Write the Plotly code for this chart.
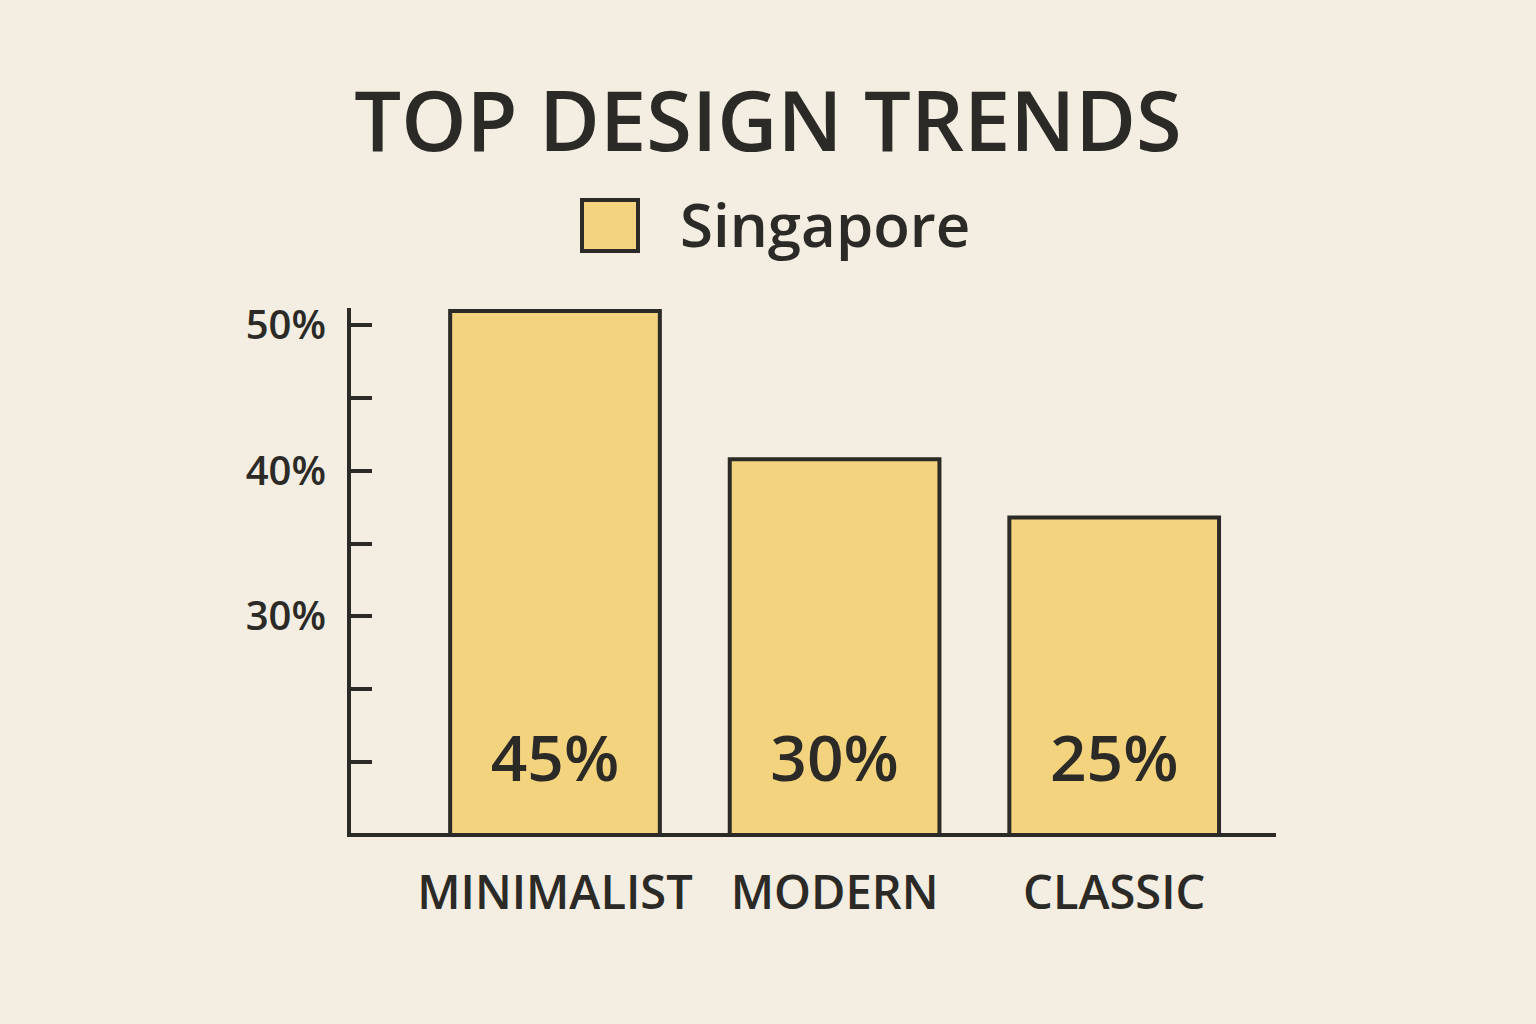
import plotly.graph_objects as go

# ---- data ----
categories = ["MINIMALIST", "MODERN", "CLASSIC"]
bar_heights = [51.0, 40.8, 36.8]          # bar tops as drawn against the y-axis
value_labels = ["45%", "30%", "25%"]      # labels printed inside the bars
y_major_ticks = [30, 40, 50]
y_major_labels = ["30%", "40%", "50%"]
y_minor_ticks = [20, 25, 35, 45]
series_name = "Singapore"
title_text = "TOP DESIGN TRENDS"

# ---- styles ----
W, H = 1536, 1024
INK = "#2b2a26"
FILL = "#f3d37e"
BG = "#f3ede2"
FONT = "Open Sans"
WT = 600
LABEL_LEVEL = 19.8  # vertical level at which the in-bar labels sit

def px_x(p):
    return p / W

def px_y(p):
    return 1 - p / H

fig = go.Figure()
fig.add_trace(go.Bar(
    x=categories, y=bar_heights, width=0.75, name=series_name,
    marker=dict(color=FILL, line=dict(color=INK, width=4)),
    showlegend=False, hoverinfo="skip",
))
fig.add_trace(go.Scatter(
    x=categories, y=[LABEL_LEVEL] * len(categories), mode="text",
    text=value_labels, textposition="middle center",
    textfont=dict(family=FONT, size=64, color=INK, weight=WT),
    showlegend=False, hoverinfo="skip",
))

fig.update_layout(
    width=W, height=H,
    margin=dict(l=0, r=0, t=0, b=0),
    paper_bgcolor=BG, plot_bgcolor=BG,
    font=dict(family=FONT, color=INK),
    title=dict(text=title_text, x=0.5, xanchor="center", y=px_y(122), yanchor="middle",
               font=dict(family=FONT, size=83, color=INK, weight=WT)),
    xaxis=dict(
        domain=[px_x(351), px_x(1276)], range=[-0.7296, 2.5787],
        showline=True, linecolor=INK, linewidth=4, ticks="",
        showgrid=False, zeroline=False, automargin=False,
        tickfont=dict(family=FONT, size=47, color=INK, weight=WT),
        ticklabelstandoff=16,
    ),
    yaxis=dict(
        domain=[px_y(833), px_y(308)], range=[15.12, 51.2],
        showline=True, linecolor=INK, linewidth=4,
        tickvals=y_major_ticks, ticktext=y_major_labels,
        ticks="inside", ticklen=21, tickwidth=4, tickcolor=INK,
        minor=dict(tickvals=y_minor_ticks, ticks="inside", ticklen=21, tickwidth=4, tickcolor=INK),
        showgrid=False, zeroline=False, automargin=False,
        tickfont=dict(family=FONT, size=40, color=INK, weight=WT),
        ticklabelstandoff=13,
    ),
    shapes=[dict(type="rect", xref="paper", yref="paper",
                 x0=px_x(582), x1=px_x(638), y0=px_y(251), y1=px_y(200),
                 fillcolor=FILL, line=dict(color=INK, width=4))],
    annotations=[dict(text=series_name, xref="paper", yref="paper",
                      x=px_x(678), y=px_y(224), xanchor="left", yanchor="middle",
                      showarrow=False, font=dict(family=FONT, size=60, color=INK, weight=WT))],
)

fig.write_html("out.html", config={"displayModeBar": False},
               post_script="document.body.style.margin='0';document.body.style.overflow='hidden';")
